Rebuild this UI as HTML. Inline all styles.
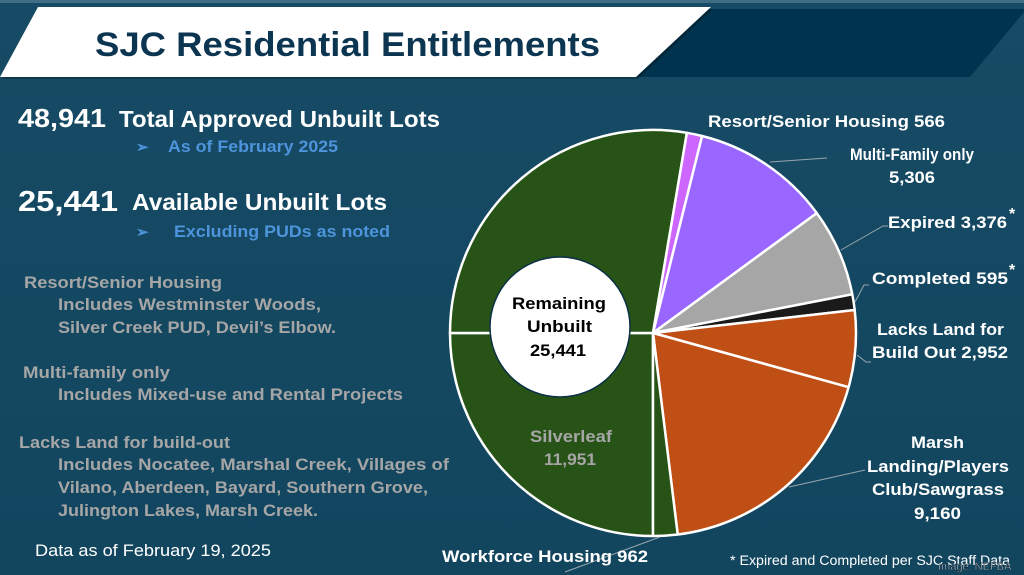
<!DOCTYPE html>
<html><head><meta charset="utf-8"><style>
html,body{margin:0;padding:0;width:1024px;height:575px;overflow:hidden;background:#134762}
svg{display:block}
text{font-family:"Liberation Sans",sans-serif;font-weight:bold}
</style></head><body>
<svg width="1024" height="575" viewBox="0 0 1024 575" xmlns="http://www.w3.org/2000/svg">
<defs>
<linearGradient id="bg" x1="0" y1="0" x2="0" y2="1">
<stop offset="0" stop-color="#174a64"/><stop offset="1" stop-color="#12465f"/>
</linearGradient>
</defs>
<rect width="1024" height="575" fill="url(#bg)"/>
<rect width="1024" height="3" fill="#3f6e86"/>
<polygon points="700,9 1024,9 1024,12 970,77 630,77" fill="#00334d"/>
<polygon points="38,7 711,7 636,77 0,77" fill="#000" opacity="0.25" transform="translate(2,2)"/>
<polygon points="38,7 711,7 636,77 0,77" fill="#ffffff"/>
<text x="95" y="56" font-size="34" fill="#0b3550" textLength="505" lengthAdjust="spacingAndGlyphs">SJC Residential Entitlements</text>

<g lengthAdjust="spacingAndGlyphs">
<text x="18" y="127" font-size="26" fill="#fff" textLength="88" lengthAdjust="spacingAndGlyphs">48,941</text>
<text x="119" y="127" font-size="23" fill="#fff" textLength="321" lengthAdjust="spacingAndGlyphs">Total Approved Unbuilt Lots</text>
<text x="136" y="152" font-size="15" fill="#4d94dc">➢</text>
<text x="168" y="152" font-size="16.5" fill="#4d94dc" textLength="170" lengthAdjust="spacingAndGlyphs">As of February 2025</text>
<text x="18" y="211" font-size="29" fill="#fff" textLength="100" lengthAdjust="spacingAndGlyphs">25,441</text>
<text x="132" y="210" font-size="23" fill="#fff" textLength="255" lengthAdjust="spacingAndGlyphs">Available Unbuilt Lots</text>
<text x="136" y="237" font-size="15" fill="#4d94dc">➢</text>
<text x="174" y="237" font-size="16.5" fill="#4d94dc" textLength="216" lengthAdjust="spacingAndGlyphs">Excluding PUDs as noted</text>
</g>

<g font-size="17" fill="#a6a6a6">
<text x="24" y="288" textLength="198" lengthAdjust="spacingAndGlyphs">Resort/Senior Housing</text>
<text x="58" y="310" textLength="263" lengthAdjust="spacingAndGlyphs">Includes Westminster Woods,</text>
<text x="58" y="333" textLength="278" lengthAdjust="spacingAndGlyphs">Silver Creek PUD, Devil’s Elbow.</text>
<text x="23" y="378" textLength="147" lengthAdjust="spacingAndGlyphs">Multi-family only</text>
<text x="58" y="400" textLength="345" lengthAdjust="spacingAndGlyphs">Includes Mixed-use and Rental Projects</text>
<text x="19" y="448" textLength="211" lengthAdjust="spacingAndGlyphs">Lacks Land for build-out</text>
<text x="58" y="470" textLength="391" lengthAdjust="spacingAndGlyphs">Includes Nocatee, Marshal Creek, Villages of</text>
<text x="58" y="493" textLength="370" lengthAdjust="spacingAndGlyphs">Vilano, Aberdeen, Bayard, Southern Grove,</text>
<text x="58" y="516" textLength="260" lengthAdjust="spacingAndGlyphs">Julington Lakes, Marsh Creek.</text>
</g>
<text x="35" y="556" font-size="16.5" fill="#fff" style="font-weight:normal" textLength="236" lengthAdjust="spacingAndGlyphs">Data as of February 19, 2025</text>

<g stroke="#fff" stroke-width="2.5" stroke-linejoin="round">
<path d="M653,333 L653,536 A203,203 0 0 1 450,333 Z" fill="#275317"/>
<path d="M653,333 L450,333 A203,203 0 0 1 686.9,132.8 Z" fill="#275317"/>
<path d="M653,333 L686.9,132.8 A203,203 0 0 1 702.1,136 Z" fill="#cc66ff"/>
<path d="M653,333 L702.1,136 A203,203 0 0 1 816.8,213.1 Z" fill="#9966ff"/>
<path d="M653,333 L816.8,213.1 A203,203 0 0 1 852.3,294.3 Z" fill="#a6a6a6"/>
<path d="M653,333 L852.3,294.3 A203,203 0 0 1 854.7,310 Z" fill="#1a1a1a"/>
<path d="M653,333 L854.7,310 A203,203 0 0 1 848.6,387.2 Z" fill="#c04f15"/>
<path d="M653,333 L848.6,387.2 A203,203 0 0 1 677.7,534.5 Z" fill="#c04f15"/>
<path d="M653,333 L677.7,534.5 A203,203 0 0 1 653,536 Z" fill="#275317"/>
</g>
<circle cx="560" cy="327" r="70" fill="#fff" stroke="#0b2f45" stroke-width="1.5"/>
<g font-size="16.5" fill="#000">
<text x="512" y="309" textLength="94" lengthAdjust="spacingAndGlyphs">Remaining</text>
<text x="527" y="332" textLength="65" lengthAdjust="spacingAndGlyphs">Unbuilt</text>
<text x="530" y="356" textLength="56" lengthAdjust="spacingAndGlyphs">25,441</text>
</g>
<g font-size="16.5" fill="#a6a6a6">
<text x="530" y="442" textLength="82" lengthAdjust="spacingAndGlyphs">Silverleaf</text>
<text x="544" y="465" textLength="52" lengthAdjust="spacingAndGlyphs">11,951</text>
</g>

<g stroke="#9aa6ae" stroke-width="1" fill="none">
<polyline points="770,162 827,158"/>
<polyline points="841,250 883,226 888,226"/>
<polyline points="855,302 864,285 869,285"/>
<polyline points="857,355 866,362 871,362"/>
<polyline points="789,487 865,470"/>
<polyline points="660,537 565,572"/>
</g>

<g font-size="16.5" fill="#fff">
<text x="708" y="127" textLength="237" lengthAdjust="spacingAndGlyphs">Resort/Senior Housing  566</text>
<text x="850" y="160" textLength="124" lengthAdjust="spacingAndGlyphs">Multi-Family only</text>
<text x="889" y="183" textLength="46" lengthAdjust="spacingAndGlyphs">5,306</text>
<text x="888" y="228" textLength="119" lengthAdjust="spacingAndGlyphs">Expired  3,376</text>
<text x="1009" y="219" font-size="16">*</text>
<text x="872" y="284" textLength="136" lengthAdjust="spacingAndGlyphs">Completed  595</text>
<text x="1009" y="275" font-size="16">*</text>
<text x="877" y="335" textLength="127" lengthAdjust="spacingAndGlyphs">Lacks Land for</text>
<text x="872" y="358" textLength="136" lengthAdjust="spacingAndGlyphs">Build Out  2,952</text>
<text x="911" y="448" textLength="53" lengthAdjust="spacingAndGlyphs">Marsh</text>
<text x="867" y="472" textLength="142" lengthAdjust="spacingAndGlyphs">Landing/Players</text>
<text x="872" y="495" textLength="132" lengthAdjust="spacingAndGlyphs">Club/Sawgrass</text>
<text x="914" y="519" textLength="47" lengthAdjust="spacingAndGlyphs">9,160</text>
<text x="442" y="562" textLength="206" lengthAdjust="spacingAndGlyphs">Workforce Housing  962</text>
</g>
<text x="730" y="565" font-size="13.5" fill="#fff" style="font-weight:normal" textLength="280" lengthAdjust="spacingAndGlyphs">* Expired and Completed per SJC Staff Data</text>
<text x="938" y="570" font-size="11" fill="#d8dde0" stroke="#0b2030" stroke-width="0.4" style="font-weight:normal">Image: NEFBA</text>
</svg>
</body></html>
